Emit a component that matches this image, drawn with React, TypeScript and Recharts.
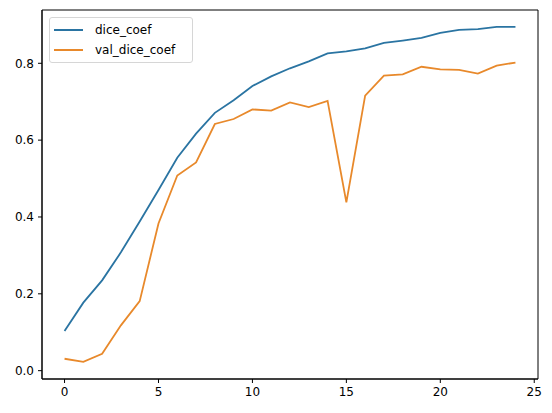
import React from "react";
import { LineChart, Line, XAxis, YAxis, ReferenceArea } from "recharts";

const epochs = [0, 1, 2, 3, 4, 5, 6, 7, 8, 9, 10, 11, 12, 13, 14, 15, 16, 17, 18, 19, 20, 21, 22, 23, 24];
const diceCoef = [
  0.103, 0.177, 0.235, 0.308, 0.388, 0.47, 0.554, 0.617, 0.671, 0.704, 0.741, 0.766, 0.787, 0.805, 0.826,
  0.831, 0.839, 0.853, 0.859, 0.866, 0.879, 0.887, 0.889, 0.895, 0.895,
];
const valDiceCoef = [
  0.031, 0.023, 0.044, 0.118, 0.181, 0.383, 0.508, 0.542, 0.642, 0.655, 0.68, 0.677, 0.698, 0.686, 0.702,
  0.438, 0.716, 0.768, 0.771, 0.791, 0.784, 0.783, 0.773, 0.794, 0.802,
];
const xTicks = [0, 5, 10, 15, 20, 25];
const yTicks = [0, 0.2, 0.4, 0.6, 0.8];

const BLUE = "#2a74a2";
const ORANGE = "#e8892b";
const FONT = "DejaVu Sans";

const X_DOMAIN: [number, number] = [-1.2, 25.2];
const Y_DOMAIN: [number, number] = [-0.0217, 0.9387];

const rows = epochs.map((e, i) => ({
  epoch: e,
  dice_coef: diceCoef[i],
  val_dice_coef: valDiceCoef[i],
}));

function LegendBox() {
  const items = [
    { name: "dice_coef", color: BLUE },
    { name: "val_dice_coef", color: ORANGE },
  ];
  return (
    <div
      style={{
        position: "absolute",
        left: 49,
        top: 17,
        boxSizing: "border-box",
        width: 144,
        height: 46,
        border: "1px solid #d6d6d6",
        borderRadius: 3,
        background: "rgba(255,255,255,0.8)",
        padding: "2px 6px 2px 4px",
        fontFamily: FONT,
        fontSize: 12,
        color: "#000",
      }}
    >
      {items.map((it) => (
        <div key={it.name} style={{ display: "flex", alignItems: "center", height: 20 }}>
          <span style={{ display: "inline-block", width: 29, height: 2, background: it.color, marginRight: 12 }} />
          <span>{it.name}</span>
        </div>
      ))}
    </div>
  );
}

export default function App() {
  return (
    <div style={{ position: "fixed", left: 0, top: 0, width: 552, height: 413, background: "#fff" }}>
      <LineChart width={552} height={413} data={rows} margin={{ top: 10, right: 14, left: 0, bottom: 0 }}>
        <XAxis
          dataKey="epoch"
          type="number"
          domain={X_DOMAIN}
          ticks={xTicks}
          height={34}
          tickSize={4}
          tickMargin={4}
          axisLine={{ stroke: "#000" }}
          tickLine={{ stroke: "#000" }}
          tick={{ fill: "#000", fontSize: 12, fontFamily: FONT }}
          allowDataOverflow
        />
        <YAxis
          type="number"
          domain={Y_DOMAIN}
          ticks={yTicks}
          width={42}
          tickSize={4}
          tickMargin={4}
          tickFormatter={(v: number) => v.toFixed(1)}
          axisLine={{ stroke: "#000" }}
          tickLine={{ stroke: "#000" }}
          tick={{ fill: "#000", fontSize: 12, fontFamily: FONT }}
          allowDataOverflow
        />
        <ReferenceArea
          x1={X_DOMAIN[0]}
          x2={X_DOMAIN[1]}
          y1={Y_DOMAIN[0]}
          y2={Y_DOMAIN[1]}
          fill="none"
          stroke="#000"
          strokeWidth={1}
        />
        <Line
          type="linear"
          dataKey="dice_coef"
          stroke={BLUE}
          strokeWidth={1.8}
          dot={false}
          isAnimationActive={false}
        />
        <Line
          type="linear"
          dataKey="val_dice_coef"
          stroke={ORANGE}
          strokeWidth={1.8}
          dot={false}
          isAnimationActive={false}
        />
      </LineChart>
      <LegendBox />
    </div>
  );
}
